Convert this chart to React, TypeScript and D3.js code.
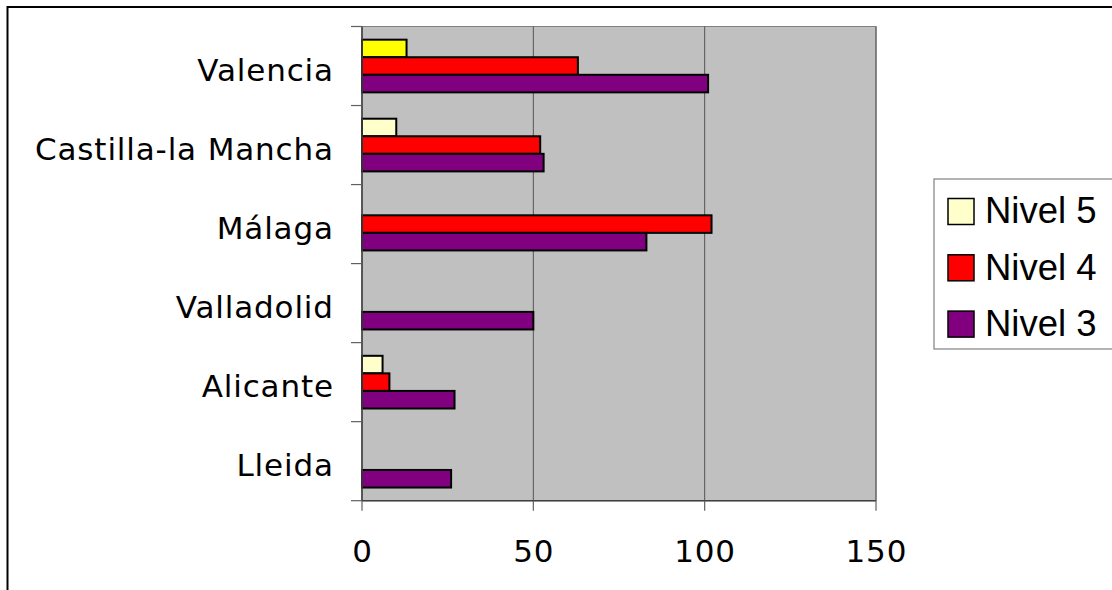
import React from "react";
import * as d3 from "d3";

const categories = ["Valencia", "Castilla-la Mancha", "Málaga", "Valladolid", "Alicante", "Lleida"];
const seriesNames = ["Nivel 5", "Nivel 4", "Nivel 3"];
const nivel5 = [13, 10, 0, 0, 6, 0];
const nivel4 = [63, 52, 102, 0, 8, 0];
const nivel3 = [101, 53, 83, 50, 27, 26];
const seriesColors = ["#FFFFCC", "#FF0000", "#800080"];
// per-point colour overrides (Valencia's Nivel 5 bar is bright yellow)
const nivel5PointColors = ["#FFFF00", null, null, null, null, null];
const xTicks = [0, 50, 100, 150];

const W = 1112;
const H = 590;
const plot = { left: 362, right: 876, top: 26.5, bottom: 500.7 };

export default function App() {
  const x = d3.scaleLinear().domain([0, 150]).range([plot.left, plot.right]);
  const y = d3.scaleBand<string>().domain(categories).range([plot.top, plot.bottom]).padding(0);
  const sub = d3
    .scaleBand<string>()
    .domain(seriesNames)
    .range([0, y.bandwidth()])
    .paddingInner(0)
    .paddingOuter(0.75);
  const values = [nivel5, nivel4, nivel3];
  const pointColors = [nivel5PointColors, [], []];
  const boundaries = d3.range(categories.length + 1).map((i) => plot.top + i * y.step());
  const ls = 0.85;

  return (
    <svg width={W} height={H} style={{ position: "absolute", left: 0, top: 0 }} xmlns="http://www.w3.org/2000/svg">
      <rect x={0} y={0} width={W} height={H} fill="#fff" />
      {/* outer chart frame (partially cropped) */}
      <rect x={7.5} y={7} width={W + 20} height={H + 20} fill="none" stroke="#000" strokeWidth={2} />
      {/* plot area */}
      <rect x={plot.left} y={plot.top} width={plot.right - plot.left} height={plot.bottom - plot.top} fill="#C0C0C0" stroke="#808080" strokeWidth={1} />
      {/* gridlines */}
      {xTicks.slice(1).map((t) => (
        <line key={"g" + t} x1={x(t)} x2={x(t)} y1={plot.top} y2={plot.bottom} stroke="#555" strokeWidth={1} />
      ))}
      {/* bars */}
      {values.map((vals, si) =>
        categories.map((c, ci) => {
          const v = vals[ci];
          if (!v) return null;
          const fill = (pointColors[si] as (string | null)[])[ci] || seriesColors[si];
          return (
            <rect
              key={si + "-" + ci}
              x={x(0)}
              y={(y(c) as number) + (sub(seriesNames[si]) as number)}
              width={x(v) - x(0)}
              height={sub.bandwidth()}
              fill={fill}
              stroke="#000"
              strokeWidth={2}
            />
          );
        })
      )}
      {/* axes */}
      <line x1={plot.left} x2={plot.left} y1={plot.top} y2={plot.bottom} stroke="#404040" strokeWidth={1.6} />
      <line x1={plot.left} x2={plot.right} y1={plot.bottom} y2={plot.bottom} stroke="#404040" strokeWidth={1.6} />
      {boundaries.map((b, i) => (
        <line key={"yt" + i} x1={plot.left - 11} x2={plot.left} y1={b} y2={b} stroke="#606060" strokeWidth={1.2} />
      ))}
      {xTicks.map((t) => (
        <line key={"xt" + t} x1={x(t)} x2={x(t)} y1={plot.bottom} y2={plot.bottom + 10} stroke="#606060" strokeWidth={1.2} />
      ))}
      {/* category labels */}
      {categories.map((c) => (
        <text
          key={"l" + c}
          x={333 + ls}
          y={(y(c) as number) + y.bandwidth() / 2 + 15}
          textAnchor="end"
          fontFamily="DejaVu Sans, Verdana, sans-serif"
          fontSize={31}
          letterSpacing={ls}
          fill="#000"
        >
          {c}
        </text>
      ))}
      {/* x tick labels */}
      {xTicks.map((t) => (
        <text
          key={"xl" + t}
          x={x(t) + ls / 2}
          y={561.5}
          textAnchor="middle"
          fontFamily="DejaVu Sans, Verdana, sans-serif"
          fontSize={31}
          letterSpacing={ls}
          fill="#000"
        >
          {t}
        </text>
      ))}
      {/* legend */}
      <rect x={934} y={179} width={190} height={170} fill="#fff" stroke="#808080" strokeWidth={1.2} />
      {seriesNames.map((s, i) => (
        <g key={"lg" + s} transform={`translate(0, ${i * 56.3})`}>
          <rect x={948} y={198.5} width={26} height={26} fill={seriesColors[i]} stroke="#000" strokeWidth={1.5} />
          <text x={985} y={223.3} fontFamily="Liberation Sans, Arial, sans-serif" fontSize={36.5} fill="#000">
            {s}
          </text>
        </g>
      ))}
    </svg>
  );
}
